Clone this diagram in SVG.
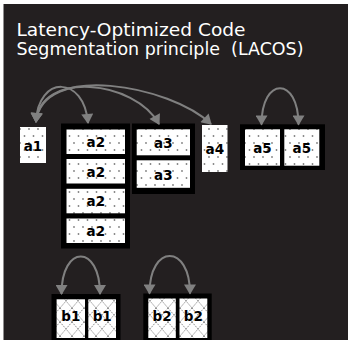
<svg xmlns="http://www.w3.org/2000/svg" width="348" height="340" viewBox="0 0 348 340">
  <style>
    .title { font-family: "DejaVu Sans", "Liberation Sans", sans-serif; font-size: 17px; fill: #ffffff; }
    .frame { fill: #000000; }
    .cellA { fill: url(#dots); }
    .cellB { fill: url(#diamonds); }
    .lbl { font-family: "DejaVu Sans", "Liberation Sans", sans-serif; font-size: 13.5px; font-weight: bold; fill: #000000; text-anchor: middle; }
    .arc { fill: none; stroke: #808080; stroke-width: 2; marker-start: url(#ah); marker-end: url(#ah); }
  </style>
  <defs>
    <pattern id="dots" patternUnits="userSpaceOnUse" width="9" height="14">
      <rect width="9" height="14" fill="#ffffff"/>
      <circle cx="2" cy="3" r="0.9" fill="#808080"/>
      <circle cx="6.5" cy="10" r="0.9" fill="#808080"/>
    </pattern>
    <pattern id="diamonds" patternUnits="userSpaceOnUse" width="12" height="14">
      <rect width="12" height="14" fill="#ffffff"/>
      <path d="M0,0 L12,14 M12,0 L0,14" stroke="#808080" stroke-width="0.9" stroke-dasharray="1.5,1" fill="none"/>
    </pattern>
    <marker id="ah" markerUnits="userSpaceOnUse" markerWidth="12" markerHeight="12" viewBox="0 0 10 12" refX="9" refY="6" orient="auto-start-reverse">
      <path d="M0,0 L10,6 L0,12 z" fill="#808080"/>
    </marker>
  </defs>

  <rect x="0" y="0" width="348" height="340" fill="#ffffff"/>
  <rect x="3.5" y="4" width="345" height="337" fill="#231f20"/>

  <g id="title">
    <text class="title" x="16.5" y="36" textLength="229" lengthAdjust="spacingAndGlyphs">Latency-Optimized Code</text>
    <text class="title" x="16.5" y="55" textLength="287" lengthAdjust="spacingAndGlyphs" xml:space="preserve">Segmentation principle  (LACOS)</text>
  </g>

  <g id="a1">
    <rect class="cellA" x="20" y="127" width="26" height="36"/>
    <text class="lbl" x="33" y="150.5">a1</text>
  </g>

  <g id="a2">
    <rect class="frame" x="61" y="123.5" width="69" height="125"/>
    <rect class="cellA" x="66.5" y="129.5" width="58.5" height="24.5"/>
    <rect class="cellA" x="66.5" y="159" width="58.5" height="24.5"/>
    <rect class="cellA" x="66.5" y="188.8" width="58.5" height="24.5"/>
    <rect class="cellA" x="66.5" y="218.5" width="58.5" height="24.5"/>
    <text class="lbl" x="95.8" y="147">a2</text>
    <text class="lbl" x="95.8" y="176.5">a2</text>
    <text class="lbl" x="95.8" y="206.3">a2</text>
    <text class="lbl" x="95.8" y="236">a2</text>
  </g>

  <g id="a3">
    <rect class="frame" x="132" y="123.5" width="63" height="70.5"/>
    <rect class="cellA" x="136.7" y="129.3" width="53.3" height="26"/>
    <rect class="cellA" x="136.7" y="160.3" width="53.3" height="27.5"/>
    <text class="lbl" x="163.3" y="147.5">a3</text>
    <text class="lbl" x="163.3" y="180">a3</text>
  </g>

  <g id="a4">
    <rect class="cellA" x="202" y="125" width="25.5" height="47"/>
    <text class="lbl" x="214.8" y="154">a4</text>
  </g>

  <g id="a5">
    <rect class="frame" x="240" y="124.3" width="85" height="45.7"/>
    <rect class="cellA" x="245" y="129.3" width="35" height="36.4"/>
    <rect class="cellA" x="284.3" y="129.3" width="35" height="36.4"/>
    <text class="lbl" x="262.5" y="152.7">a5</text>
    <text class="lbl" x="301.8" y="152.7">a5</text>
  </g>

  <g id="b1">
    <rect class="frame" x="51.5" y="294" width="69" height="50"/>
    <rect class="cellB" x="56.6" y="299.3" width="28.4" height="38.7"/>
    <rect class="cellB" x="88.3" y="299.3" width="27.7" height="38.7"/>
    <text class="lbl" x="70.8" y="320.5">b1</text>
    <text class="lbl" x="102.2" y="320.5">b1</text>
  </g>

  <g id="b2">
    <rect class="frame" x="143.3" y="293.5" width="68.4" height="50.5"/>
    <rect class="cellB" x="148.3" y="298.5" width="27.5" height="39.5"/>
    <rect class="cellB" x="179.5" y="298.5" width="27.8" height="39.5"/>
    <text class="lbl" x="162" y="321">b2</text>
    <text class="lbl" x="193.4" y="321">b2</text>
  </g>

  <g id="connectors">
    <path class="arc" d="M36,122 C38,75 84,75 88,123"/>
    <path class="arc" d="M36,122 C40,70 135,80 159,124"/>
    <path class="arc" d="M36,122 C42,62 170,85 211,124"/>
    <path class="arc" d="M261.5,124.5 C261.5,76 298.5,76 298.5,124.5"/>
    <path class="arc" d="M61.5,294 C61.5,244 100,244 100,294"/>
    <path class="arc" d="M149.5,293.5 C149.5,243.5 190,243.5 190,293.5"/>
  </g>
</svg>
